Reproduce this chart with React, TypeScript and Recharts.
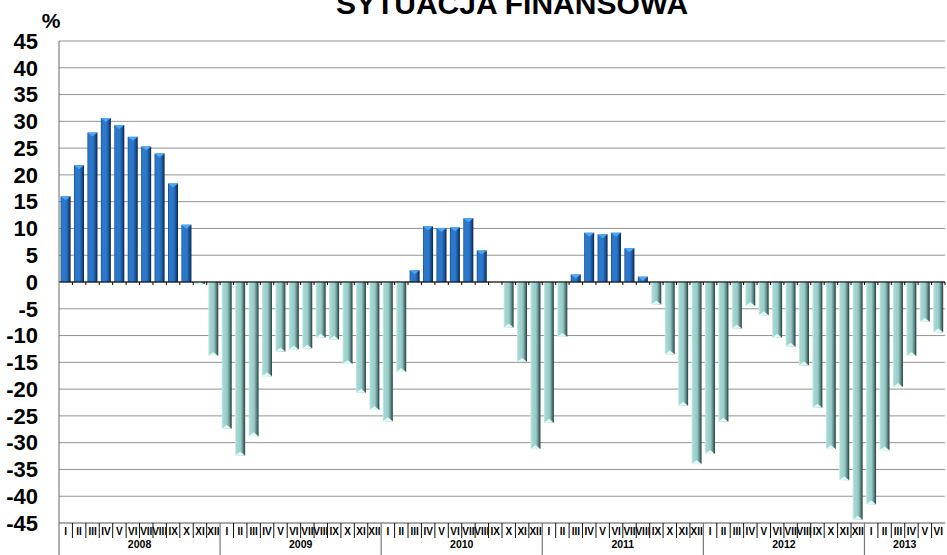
import React from 'react';
import { BarChart, Bar, XAxis, YAxis, CartesianGrid, ReferenceLine } from 'recharts';

// categories
const months = ['I', 'II', 'III', 'IV', 'V', 'VI', 'VII', 'VIII', 'IX', 'X', 'XI', 'XII'];
const years = ['2008', '2009', '2010', '2011', '2012', '2013'];

// balance of answers, %
const values2008 = [16.0, 21.8, 27.9, 30.6, 29.3, 27.1, 25.3, 24.0, 18.4, 10.7, -0.4, -13.8];
const values2009 = [-27.4, -32.4, -28.8, -17.6, -13.0, -12.6, -12.4, -10.4, -10.8, -15.3, -20.7, -23.9];
const values2010 = [-26.0, -16.8, 2.2, 10.4, 10.1, 10.2, 11.9, 5.9, 0, -8.5, -14.9, -31.2];
const values2011 = [-26.3, -10.2, 1.4, 9.2, 8.9, 9.2, 6.3, 1.0, -4.2, -13.5, -23.1, -34.0];
const values2012 = [-32.1, -26.1, -8.7, -4.5, -6.2, -10.4, -12.1, -15.6, -23.5, -31.2, -37.0, -44.4];
const values2013 = [-41.5, -31.4, -19.6, -13.8, -7.4, -9.4];
const valuesByYear = [values2008, values2009, values2010, values2011, values2012, values2013];

const yTicks = [-45, -40, -35, -30, -25, -20, -15, -10, -5, 0, 5, 10, 15, 20, 25, 30, 35, 40, 45];

const title = 'SYTUACJA FINANSOWA';
const unitLabel = '%';

const W = 947;
const H = 555;
const PLOT_LEFT = 59;
const PLOT_RIGHT = 945;
const FONT = 'Arial, "Liberation Sans", sans-serif';

const data = years.flatMap((year, yi) =>
  valuesByYear[yi].map((value, mi) => ({
    key: `${months[mi]} ${year}`,
    year,
    month: months[mi],
    mi,
    yi,
    value,
  }))
);

const band = (PLOT_RIGHT - PLOT_LEFT) / data.length;

const MonthTick = (props: any) => {
  const { x, y, payload } = props;
  const idx = props.index ?? payload?.index;
  const row = data[idx] ?? data.find((d) => d.key === payload?.value);
  if (!row) return null;
  const left = x - band / 2;
  const isJan = row.mi === 0;
  return (
    <g>
      {isJan ? (
        <line x1={left} x2={left} y1={y} y2={H} stroke="#777" strokeWidth={1.2} />
      ) : (
        <line x1={left} x2={left} y1={y} y2={y + 15} stroke="#111" strokeWidth={1} />
      )}
      <text x={x} y={y + 12} textAnchor="middle" fontSize={10} fontWeight="bold" fontFamily={FONT} fill="#000">
        {row.month}
      </text>
      {isJan && (
        <text
          x={left + (valuesByYear[row.yi].length * band) / 2}
          y={y + 25}
          textAnchor="middle"
          fontSize={10.5}
          fontWeight="bold"
          fontFamily={FONT}
          fill="#000"
        >
          {row.year}
        </text>
      )}
    </g>
  );
};

const Bar3D = (props: any) => {
  const { x, y, width, height, payload } = props;
  if (!height || !width) return null;
  const top = Math.min(y, y + height);
  const h = Math.abs(height);
  const bottom = top + h;
  const bev = Math.min(4, h);
  if (payload.value >= 0) {
    return (
      <g>
        <rect x={x} y={top} width={width} height={h} fill="url(#posGrad)" />
        <polygon points={`${x},${top} ${x + width},${top} ${x + width / 2},${top + bev}`} fill="#4ba6f7" />
      </g>
    );
  }
  return (
    <g>
      <rect x={x} y={top} width={width} height={h} fill="url(#negGrad)" />
      <polygon points={`${x},${bottom} ${x + width},${bottom} ${x + width / 2},${bottom - bev}`} fill="#def9f6" />
    </g>
  );
};

const ZeroLine = (props: any) => {
  const { x1, x2, y1 } = props;
  const step = (x2 - x1) / data.length;
  return (
    <g>
      <line x1={x1} x2={x2} y1={y1} y2={y1} stroke="#000" strokeWidth={1.2} />
      {data.map((d, i) => (
        <line key={d.key} x1={x1 + (i + 1) * step} x2={x1 + (i + 1) * step} y1={y1} y2={y1 + 3} stroke="#000" />
      ))}
    </g>
  );
};

export default function App() {
  return (
    <div style={{ position: 'absolute', left: 0, top: 0, width: W, height: H, background: '#fff' }}>
      <BarChart
        width={W}
        height={H}
        data={data}
        margin={{ top: 41, right: W - PLOT_RIGHT, bottom: 0, left: 0 }}
        barCategoryGap="12%"
      >
        <defs>
          <linearGradient id="posGrad" x1="0" y1="0" x2="1" y2="0">
            <stop offset="0%" stopColor="#123f78" />
            <stop offset="12%" stopColor="#2b79cc" />
            <stop offset="55%" stopColor="#2a77cb" />
            <stop offset="78%" stopColor="#1b5598" />
            <stop offset="100%" stopColor="#0a2342" />
          </linearGradient>
          <linearGradient id="negGrad" x1="0" y1="0" x2="1" y2="0">
            <stop offset="0%" stopColor="#cdeeea" />
            <stop offset="15%" stopColor="#a6d7d3" />
            <stop offset="55%" stopColor="#98cbc7" />
            <stop offset="78%" stopColor="#5f8e8b" />
            <stop offset="100%" stopColor="#243b3a" />
          </linearGradient>
        </defs>
        <CartesianGrid vertical={false} stroke="#929292" />
        <XAxis
          dataKey="key"
          interval={0}
          height={32}
          tickSize={0}
          tickMargin={0}
          axisLine={{ stroke: '#888' }}
          tickLine={false}
          tick={(p: any) => <MonthTick {...p} />}
        />
        <YAxis
          domain={[-45, 45]}
          ticks={yTicks}
          interval={0}
          width={PLOT_LEFT}
          tickSize={0}
          tickMargin={21}
          allowDataOverflow
          axisLine={{ stroke: '#666' }}
          tickLine={false}
          tick={{ fill: '#000', fontSize: 22, fontWeight: 'bold', fontFamily: FONT }}
        />
        <Bar dataKey="value" shape={Bar3D} isAnimationActive={false} />
        <ReferenceLine y={0} shape={ZeroLine} />
      </BarChart>
      <svg
        width={W}
        height={H}
        style={{ position: 'absolute', left: 0, top: 0, pointerEvents: 'none' }}
      >
        <text x={512} y={14} textAnchor="middle" fontSize={30} fontWeight="bold" fontFamily={FONT} fill="#000">
          {title}
        </text>
        <text x={51} y={28} textAnchor="middle" fontSize={21} fontWeight="bold" fontFamily={FONT} fill="#000">
          {unitLabel}
        </text>
      </svg>
    </div>
  );
}
